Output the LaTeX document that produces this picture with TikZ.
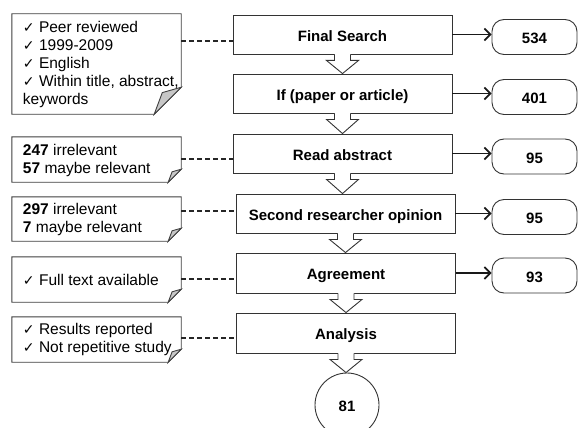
\documentclass[tikz,border=0pt]{standalone}
\usepackage{fontspec}
\setmainfont{Liberation Sans}
\newfontfamily\symf{DejaVu Sans}
\usetikzlibrary{calc,arrows.meta}
\newcommand{\ckm}{{\symf\fontsize{14}{14}\selectfont ✓}}
\tikzset{
  boxfont/.style={font=\fontsize{15}{18}\selectfont\bfseries, text height=13.5pt, text depth=0pt},
  mainbox/.style={draw=black!80, line width=0.9pt, fill=white, minimum width=219pt, minimum height=39pt, inner sep=0pt, boxfont},
  numbox/.style={draw=black!80, line width=0.9pt, rounded corners=12pt, minimum width=85pt, minimum height=35pt, inner sep=0pt, boxfont},
  noteframe/.style={minimum width=169pt, inner sep=0pt},
  notetext/.style={anchor=west, align=left, inner sep=0pt, font=\fontsize{15.5}{18}\selectfont},
  noteline/.style={draw=black!75, line width=0.9pt},
  dashline/.style={draw=black!85, line width=1.8pt, dash pattern=on 5pt off 3pt},
  outarrow/.style={draw=black!90, line width=1.7pt, -{Straight Barb[length=6pt,width=12pt]}},
  blockline/.style={draw=black!80, line width=0.9pt}
}
\newcommand{\barrow}[2]{%
  \fill[white] ($(#1.south)+(-8,-1)$) -- ($(#1.south)+(-8,6)$) -- ($(#1.south)+(-16,6)$) -- (#1.south |- #2.north) -- ($(#1.south)+(16,6)$) -- ($(#1.south)+(8,6)$) -- ($(#1.south)+(8,-1)$) -- cycle;
  \draw[blockline] ($(#1.south)+(-8,0)$) -- ($(#1.south)+(-8,6)$) -- ($(#1.south)+(-16,6)$) -- (#1.south |- #2.north) -- ($(#1.south)+(16,6)$) -- ($(#1.south)+(8,6)$) -- ($(#1.south)+(8,0)$);
}
\newcommand{\notebox}[2]{%
  \draw[noteline, fill=white] (#1.north west) -- (#1.north east) -- ($(#1.south east)+(0,-#2)$) -- ($(#1.south east)+(-#2,0)$) -- (#1.south west) -- cycle;
  \draw[noteline, fill=black!22] ($(#1.south east)+(0,-#2)$) -- ($(#1.south east)+(-0.7*#2,-0.8*#2)$) -- ($(#1.south east)+(-#2,0)$) -- cycle;
}
\begin{document}
\begin{tikzpicture}[x=1pt,y=-1pt]
\useasboundingbox (0,0) rectangle (578,428);
\clip (0,0) rectangle (578,428);

% main boxes
\node[mainbox] (m1) at (342.5,34.5) {Final Search};
\node[mainbox] (m2) at (342.5,93.5) {If (paper or article)};
\node[mainbox] (m3) at (342.5,153.5) {Read abstract};
\node[mainbox] (m4) at (345.5,213.5) {Second researcher opinion};
\node[mainbox, minimum height=40pt] (m5) at (346,273) {Agreement};
\node[mainbox, minimum height=40pt] (m6) at (346,333) {Analysis};
\node[draw=black!80, line width=0.9pt, circle, minimum size=64pt, inner sep=0pt, boxfont] (c) at (347,405) {81};

% number boxes
\node[numbox] (k1) at (534.5,37) {534};
\node[numbox] (k2) at (534.5,97) {401};
\node[numbox] (k3) at (534.5,156.5) {95};
\node[numbox] (k4) at (534.5,217) {95};
\node[numbox] (k5) at (534.5,275.5) {93};

% block arrows
\barrow{m1}{m2}
\barrow{m2}{m3}
\barrow{m3}{m4}
\barrow{m4}{m5}
\barrow{m5}{m6}
\barrow{m6}{c}

% output arrows
\draw[outarrow] (m1.east) -- (m1.east -| k1.west);
\draw[outarrow] (m2.east) -- (m2.east -| k2.west);
\draw[outarrow] (m3.east) -- (m3.east -| k3.west);
\draw[outarrow] (m4.east) -- (m4.east -| k4.west);
\draw[outarrow] (m5.east) -- (m5.east -| k5.west);

% notes
\node[noteframe, minimum height=100pt] (n1) at (96.5,64) {};
\node[noteframe, minimum height=45pt] (n2) at (96.5,159.5) {};
\node[noteframe, minimum height=44pt] (n3) at (96.5,219) {};
\node[noteframe, minimum height=45pt] (n4) at (96.5,279.5) {};
\node[noteframe, minimum height=45pt] (n5) at (96.5,339.5) {};
\notebox{n1}{27}
\notebox{n2}{13}
\notebox{n3}{13}
\notebox{n4}{13}
\notebox{n5}{13}

\node[notetext] (t1) at ($(n1.west)+(11,0)$) {\ckm\ Peer reviewed\\ \ckm\ 1999-2009\\ \ckm\ English\\ \ckm\ Within title, abstract,\\ keywords};
\node[notetext] (t2) at ($(n2.west)+(11,1)$) {\textbf{247} irrelevant\\ \textbf{57} maybe relevant};
\node[notetext] (t3) at ($(n3.west)+(11,0)$) {\textbf{297} irrelevant\\ \textbf{7} maybe relevant};
\node[notetext] (t4) at ($(n4.west)+(11,0)$) {\ckm\ Full text available};
\node[notetext] (t5) at ($(n5.west)+(11,0)$) {\ckm\ Results reported\\ \ckm\ Not repetitive study};

% dashed connectors
\draw[dashline] (n1.east |- 0,41) -- (m1.west |- 0,41);
\draw[dashline] (n2.east |- 0,159) -- (m3.west |- 0,159);
\draw[dashline] (n3.east |- 0,211) -- (m4.west |- 0,211);
\draw[dashline] (n4.east |- 0,279) -- (m5.west |- 0,279);
\draw[dashline] (n5.east |- 0,338) -- (m6.west |- 0,338);
\end{tikzpicture}
\end{document}
